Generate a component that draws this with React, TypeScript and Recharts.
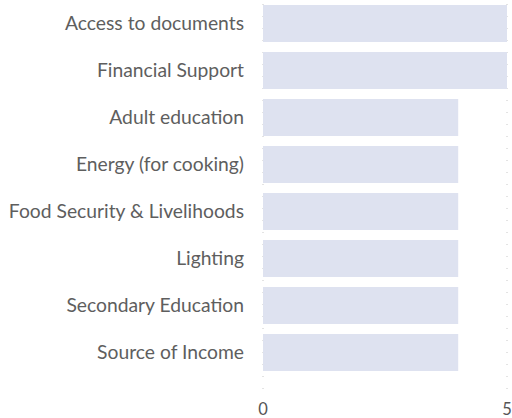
import { BarChart, Bar, XAxis, YAxis, CartesianGrid } from "recharts";

const categories = [
  "Access to documents",
  "Financial Support",
  "Adult education",
  "Energy (for cooking)",
  "Food Security & Livelihoods",
  "Lighting",
  "Secondary Education",
  "Source of Income",
];
const values = [5, 5, 4, 4, 4, 4, 4, 4];
const xTicks = [0, 5];

const data = categories.map((name, i) => ({ name, value: values[i] }));

const App = () => {
  return (
    <div style={{ position: "absolute", left: 0, top: 0 }}>
      <BarChart
        width={512}
        height={418}
        data={data}
        layout="vertical"
        margin={{ top: 0, right: 5, left: 0, bottom: 0 }}
        barCategoryGap={5}
      >
        <CartesianGrid
          horizontal={false}
          stroke="#c8c8c8"
          strokeDasharray="1 11"
          strokeDashoffset={-4}
        />
        <XAxis
          type="number"
          domain={[0, 5]}
          ticks={xTicks}
          axisLine={false}
          tickLine={false}
          tickSize={0}
          tickMargin={14}
          height={29}
          tick={{ fill: "#555", fontSize: 16.5, fontFamily: "Lato" }}
        />
        <YAxis
          type="category"
          dataKey="name"
          width={263}
          axisLine={false}
          tickLine={false}
          tickSize={0}
          tickMargin={19}
          padding={{ top: 0, bottom: 13 }}
          tick={{ fill: "#5e5e5e", fontSize: 19.3, fontFamily: "Lato" }}
        />
        <Bar dataKey="value" fill="#dee2f0" isAnimationActive={false} />
      </BarChart>
    </div>
  );
};

export default App;
